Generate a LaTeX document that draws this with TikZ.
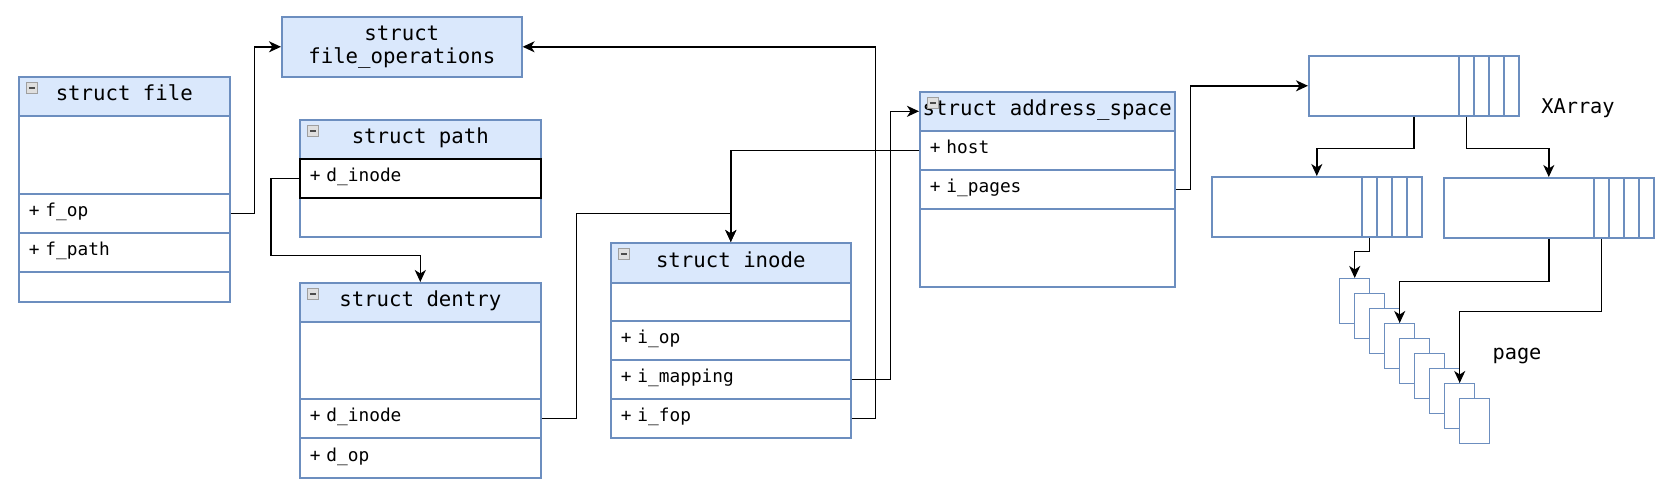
\documentclass[tikz,border=0pt]{standalone}
\usepackage{fontspec}
\setmonofont{DejaVu Sans Mono}
\usepackage{tikz}
\usetikzlibrary{arrows.meta}
\usetikzlibrary{positioning}
\definecolor{fondbleu}{HTML}{DAE8FC}
\definecolor{bordbleu}{HTML}{6C8EBF}
\tikzstyle{boite}=[
        rectangle,
        draw=bordbleu,
        line width=1.6pt,
        anchor=north west,
        inner sep=0pt
]
\tikzset{entete/.style={boite,fill=fondbleu,minimum width=#1,minimum height=39,
        font=\ttfamily\fontsize{20.7}{23}\selectfont,text height=.88em,text depth=0pt}}
\tikzset{champ/.style={boite,fill=white,text width=#1,inner xsep=10pt,minimum height=39,
        align=left,font=\ttfamily\fontsize{17.8}{21}\selectfont,text height=.8em,text depth=.1em}}
\tikzstyle{icone}=[rectangle,draw=gray!75,fill=gray!25,line width=0.9pt,anchor=north west,
        minimum size=11,inner sep=0pt,
        path picture={\draw[black!70,line width=1.6pt] ([xshift=2.5pt]path picture bounding box.west)
        -- ([xshift=-2.5pt]path picture bounding box.east);}]
\tikzstyle{tableau}=[boite,fill=white,minimum width=210,minimum height=60]
\tikzstyle{case}=[boite,fill=white,minimum width=15,minimum height=60]
\tikzstyle{feuille}=[boite,fill=white,line width=1.4pt,minimum width=30,minimum height=45]
\tikzstyle{etiquette}=[font=\ttfamily\fontsize{20.3}{23}\selectfont]
\tikzstyle{suite}=[-{Stealth[length=12pt,width=11pt,inset=3.5pt]},line width=1.5pt,black]

\begin{document}
\begin{tikzpicture}[x=1pt,y=-1pt]
\useasboundingbox (0,0) rectangle (1668,495);
% struct file
\node[entete=211] (file) at (18,76) {struct file};
\node[champ=191,minimum height=78] (fvide) at (18,115) {};
\node[champ=191] (fop) at (18,193) {+ f\_op};
\node[champ=191] (fpath) at (18,232) {+ f\_path};
\node[champ=191,minimum height=30] (fbas) at (18,271) {};
% file_operations
\node[boite,fill=fondbleu,minimum width=240,minimum height=60,align=center,
      font=\ttfamily\fontsize{20.7}{23}\selectfont] (fops) at (281,16) {struct\\file\_operations};
% struct path
\node[entete=241] (path) at (299,119) {struct path};
\node[champ=221] (pbas) at (299,197) {};
\node[champ=221,draw=black] (pdinode) at (299,158) {+ d\_inode};
% struct dentry
\node[entete=241] (dentry) at (299,282) {struct dentry};
\node[champ=221,minimum height=77] (dvide) at (299,321) {};
\node[champ=221] (ddinode) at (299,398) {+ d\_inode};
\node[champ=221,minimum height=40] (dop) at (299,437) {+ d\_op};
% struct inode
\node[entete=240,minimum height=40] (inode) at (610,242) {struct inode};
\node[champ=220,minimum height=38] (ivide) at (610,282) {};
\node[champ=220] (iop) at (610,320) {+ i\_op};
\node[champ=220] (imap) at (610,359) {+ i\_mapping};
\node[champ=220] (ifop) at (610,398) {+ i\_fop};
% struct address_space
\node[entete=255] (as) at (919,91) {struct address\_space};
\node[champ=235] (host) at (919,130) {+ host};
\node[champ=235] (ipages) at (919,169) {+ i\_pages};
\node[champ=235,minimum height=78] (asbas) at (919,208) {};
% icones
\foreach \s in {file,path,dentry,inode,as}
  \node[icone] (\s-ic) at ([shift={(8,6)}]\s.north west) {};
% XArray
\node[tableau] (xa) at (1308,55) {};
\foreach \i in {1,...,4} \node[case] (xa\i) at ({1443+15*\i},55) {};
\node[tableau] (xal) at (1211,176) {};
\foreach \i in {1,...,4} \node[case] (xal\i) at ({1346+15*\i},176) {};
\node[tableau] (xar) at (1443,177) {};
\foreach \i in {1,...,4} \node[case] (xar\i) at ({1578+15*\i},177) {};
\foreach \i in {1,...,9} \node[feuille] (page\i) at ({1324+15*\i},{263+15*\i}) {};
\node[etiquette] (lxa) at (1578,108) {XArray};
\node[etiquette] (lpage) at (1517,356) {page};
%fleches
\draw[suite] (fop.east) -- ++(24,0) |- (fops.west);
\draw[suite] (pdinode.west) -| ++(-28,77) -| (dentry.north);
\draw[suite] (ddinode.east) -| ++(35,-205) -| (inode.north);
\draw[suite] (host.west) -| (inode.north);
\draw[suite] (imap.east) -- ++(39,0) |- (as.west);
\draw[suite] (ifop.east) -- ++(24,0) |- (fops.east);
\draw[suite] (ipages.east) -- ++(15,0) |- (xa.west);
\draw[suite] (xa.south) -- ++(0,32) -| (xal.north);
\draw[suite] (xa1.south) -- ++(0,32) -| (xar.north);
\draw[suite] (xal1.south) -- ++(0,14) -| (page1.north);
\draw[suite] (xar.south) -- ++(0,43) -| (page4.north);
\draw[suite] (xar1.south) -- ++(0,73) -| (page8.north);
\end{tikzpicture}
\end{document}
